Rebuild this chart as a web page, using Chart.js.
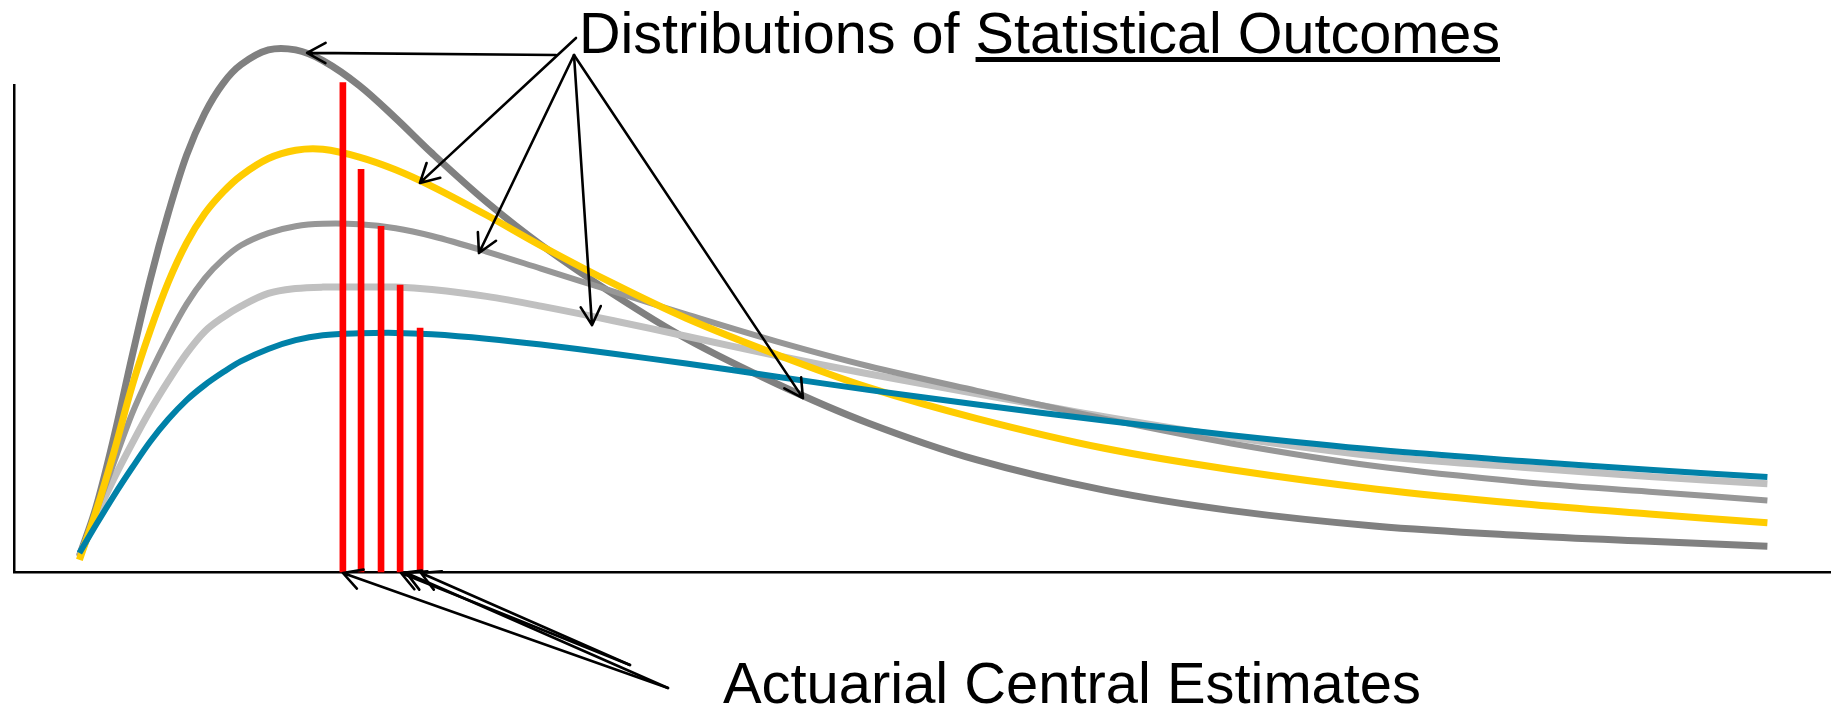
<!DOCTYPE html>
<html>
<head>
<meta charset="utf-8">
<title>Distributions of Statistical Outcomes</title>
<script src="https://cdn.jsdelivr.net/npm/chart.js@4.4.0/dist/chart.umd.min.js"></script>
<style>
    html, body { margin: 0; padding: 0; background: #ffffff; }
    #contenedor { position: relative; width: 1831px; height: 709px; }
</style>
</head>
<body>
<div id="contenedor"><canvas id="miGrafico"></canvas></div>
<script>
// Puntos del eje x donde se leyeron las curvas (escala 0-100)
var xValues = [3.6, 4.5, 5.5, 6.5, 7.5, 8.5, 9.5, 10.5, 11.5, 12.5, 14, 15.5, 17, 19, 21, 23, 26, 29, 33, 37, 42, 47, 53, 60, 67, 75, 83, 90, 96.5];

// Distribuciones (altura relativa, 100 = tope del eje y)
var darkGrey  = [3.3, 13.1, 27.7, 44.3, 60.1, 73.8, 85.6, 94.2, 100.3, 104.2, 107.2, 107.2, 105.0, 99.9, 93.2, 86.0, 76.0, 67.2, 57.0, 47.9, 38.6, 30.6, 23.0, 16.8, 12.6, 9.4, 7.5, 6.3, 5.3];
var yellow    = [2.5, 12.3, 24.6, 38.2, 49.6, 59.6, 67.6, 73.6, 78.0, 81.4, 84.9, 86.6, 86.8, 85.2, 82.6, 79.2, 73.3, 67.0, 59.2, 52.1, 44.6, 37.9, 31.5, 25.4, 21.0, 17.0, 14.0, 11.9, 10.1];
var midGrey   = [3.1, 12.3, 22.5, 32.5, 40.8, 48.3, 55.0, 60.3, 64.2, 67.1, 69.6, 71.0, 71.5, 71.4, 70.6, 69.0, 65.8, 62.3, 57.6, 52.9, 47.3, 42.3, 37.2, 31.5, 26.4, 21.7, 18.5, 16.5, 14.7];
var lightGrey = [3.1, 11.2, 19.2, 26.4, 33.2, 39.3, 44.9, 49.4, 52.3, 54.6, 57.2, 58.2, 58.5, 58.5, 58.5, 58.0, 56.6, 54.6, 51.6, 48.4, 44.4, 40.7, 36.6, 31.9, 27.7, 23.8, 21.5, 19.6, 18.1];
var blue      = [3.9, 9.6, 15.7, 21.4, 26.8, 31.4, 35.3, 38.4, 41.0, 43.3, 45.8, 47.6, 48.6, 49.0, 49.1, 48.8, 47.9, 46.7, 44.8, 42.8, 40.1, 37.4, 34.4, 31.1, 28.1, 25.1, 22.8, 21.0, 19.5];

// Estimaciones centrales actuariales (barras rojas)
var estimateX = [18.1, 19.1, 20.2, 21.25, 22.35];
var estimateY = [100.5, 82.7, 71.0, 58.9, 50.1];

var topLabel = 'Distributions of ';
var topLabelUnderlined = 'Statistical Outcomes';
var bottomLabel = 'Actuarial Central Estimates';

function puntos(ys) {
    return xValues.map(function (x, i) { return { x: x, y: ys[i] }; });
}

function curva(ys, color, ancho, orden) {
    return {
        type: 'line',
        data: puntos(ys),
        borderColor: color,
        borderWidth: ancho,
        pointRadius: 0,
        tension: 0.35,
        borderJoinStyle: 'round',
        fill: false,
        clip: false,
        order: orden
    };
}

function flecha(ctx, x0, y0, x1, y1) {
    var ang = Math.atan2(y0 - y1, x0 - x1);
    var largo = 21, abre = 0.5;
    ctx.beginPath();
    ctx.moveTo(x0, y0);
    ctx.lineTo(x1, y1);
    ctx.moveTo(x1 + largo * Math.cos(ang + abre), y1 + largo * Math.sin(ang + abre));
    ctx.lineTo(x1, y1);
    ctx.lineTo(x1 + largo * Math.cos(ang - abre), y1 + largo * Math.sin(ang - abre));
    ctx.stroke();
}

// Texto y flechas de anotación
var notas = {
    id: 'notas',
    afterDraw: function (chart) {
        var ctx = chart.ctx;
        var sx = chart.scales.x, sy = chart.scales.y;
        ctx.save();
        ctx.strokeStyle = '#000000';
        ctx.lineWidth = 2.6;
        ctx.lineCap = 'round';
        ctx.lineJoin = 'round';

        // flechas hacia las distribuciones (punta en coordenadas de datos)
        var arriba = [
            [556, 55, 16.13, 106.6],
            [576, 38, 22.34, 79.9],
            [574, 55, 25.59, 65.5],
            [574, 55, 31.81, 50.7],
            [574, 55, 43.42, 35.7]
        ];
        arriba.forEach(function (f) {
            flecha(ctx, f[0], f[1], sx.getPixelForValue(f[2]), sy.getPixelForValue(f[3]));
        });

        // flechas hacia las estimaciones
        var abajo = [
            [668, 688, 18.1],
            [668, 688, 21.6],
            [630, 665, 21.3],
            [630, 665, 22.4]
        ];
        abajo.forEach(function (f) {
            flecha(ctx, f[0], f[1], sx.getPixelForValue(f[2]), sy.getPixelForValue(0) + 1);
        });

        // textos
        ctx.fillStyle = '#000000';
        ctx.font = '57.5px "Liberation Sans", Arial, sans-serif';
        ctx.textBaseline = 'alphabetic';

        var completo = topLabel + topLabelUnderlined;
        var escala = 921 / ctx.measureText(completo).width;
        ctx.save();
        ctx.translate(579, 53);
        ctx.scale(escala, 1);
        ctx.fillText(completo, 0, 0);
        ctx.restore();
        var inicio = 579 + ctx.measureText(topLabel).width * escala;
        ctx.fillRect(inicio, 57, 1500 - inicio, 5);

        var escala2 = 698 / ctx.measureText(bottomLabel).width;
        ctx.save();
        ctx.translate(723, 703);
        ctx.scale(escala2, 1);
        ctx.fillText(bottomLabel, 0, 0);
        ctx.restore();

        ctx.restore();
    }
};

document.addEventListener('DOMContentLoaded', function () {
    var canvas = document.getElementById('miGrafico');

    var datos = {
        datasets: [
            {
                type: 'bar',
                label: 'Actuarial Central Estimates',
                data: estimateX.map(function (x, i) { return { x: x, y: estimateY[i] }; }),
                backgroundColor: '#ff0000',
                barThickness: 6,
                clip: false,
                order: 0
            },
            curva(blue, '#0081a8', 6, 1),
            curva(lightGrey, '#c0c0c0', 7, 4),
            curva(midGrey, '#979797', 6, 3),
            curva(yellow, '#ffcc00', 7, 2),
            curva(darkGrey, '#808080', 7, 5)
        ]
    };

    var ejeOculto = {
        type: 'linear',
        min: 0,
        max: 100,
        offset: false,
        ticks: { display: false },
        grid: { display: false, drawTicks: false },
        border: { display: true, color: '#000000', width: 2.5 }
    };

    var configuracion = {
        type: 'line',
        data: datos,
        options: {
            responsive: true,
            maintainAspectRatio: false,
            animation: false,
            layout: {
                autoPadding: false,
                padding: { left: 14, top: 85, right: 0, bottom: 137 }
            },
            plugins: {
                legend: { display: false },
                tooltip: { enabled: false }
            },
            scales: {
                x: Object.assign({}, ejeOculto),
                y: Object.assign({}, ejeOculto)
            }
        },
        plugins: [notas]
    };

    var miGrafico = new Chart(canvas, configuracion);
});
</script>
</body>
</html>
